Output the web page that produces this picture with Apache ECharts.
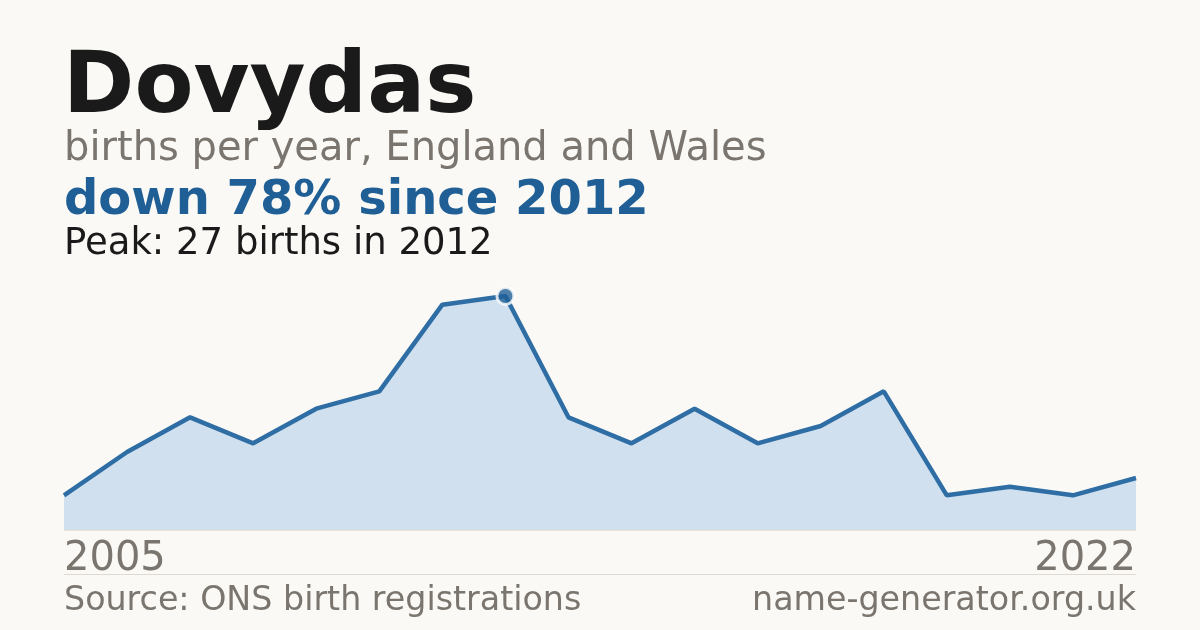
<!DOCTYPE html>
<html>
<head>
<meta charset="utf-8">
<title>Dovydas</title>
<script src="https://cdn.jsdelivr.net/npm/echarts@6/dist/echarts.min.js"></script>
<style>
  html, body { margin: 0; padding: 0; background: #faf9f5; }
  #main { width: 1200px; height: 630px; }
</style>
</head>
<body>
<div id="main"></div>
<script>
    // data
    var years = ['2005','2006','2007','2008','2009','2010','2011','2012','2013','2014','2015','2016','2017','2018','2019','2020','2021','2022'];
    var births = [4, 9, 13, 10, 14, 16, 26, 27, 13, 10, 14, 10, 12, 16, 4, 5, 4, 6];

    var peakIdx = births.indexOf(Math.max.apply(null, births));
    var font = '"DejaVu Sans", sans-serif';
    var grey = '#7a756e';

    var myChart = echarts.init(document.getElementById('main'));

    function txt(text, x, y, size, weight, color, align) {
        return {
            type: 'text',
            x: x, y: y,
            style: {
                text: text,
                font: weight + ' ' + size + 'px ' + font,
                fill: color,
                align: align || 'left',
                verticalAlign: 'top'
            }
        };
    }

    var option = {
        backgroundColor: '#faf9f5',
        animation: false,
        grid: { left: 64, right: 64, top: 296, bottom: 100 },
        xAxis: {
            type: 'category',
            data: years,
            boundaryGap: false,
            axisLine: { show: true, lineStyle: { color: '#e9e1d3', width: 1 } },
            axisTick: { show: false },
            axisLabel: { show: false },
            splitLine: { show: false }
        },
        yAxis: {
            type: 'value',
            min: 0,
            max: births[peakIdx],
            show: false
        },
        series: [
            {
                type: 'line',
                data: births,
                showSymbol: false,
                lineStyle: { color: '#2f6ea5', width: 4.5 },
                areaStyle: { color: '#d0e0ef', opacity: 1 },
                z: 2
            },
            {
                // peak marker
                type: 'scatter',
                data: [[peakIdx, births[peakIdx]]],
                symbol: 'circle',
                symbolSize: 17,
                itemStyle: { color: '#1f5f96', borderColor: '#ffffff', borderWidth: 3 },
                z: 3
            }
        ],
        graphic: [
            txt('Dovydas', 63, 47, 86, 'bold', '#1a1a1a'),
            txt('births per year, England and Wales', 64, 130, 40, 'normal', grey),
            txt('down 78% since 2012', 64, 178, 48, 'bold', '#1f5f96'),
            txt('Peak: ' + births[peakIdx] + ' births in ' + years[peakIdx], 64, 226, 37, 'normal', '#1a1a1a'),
            txt(years[0], 64, 540, 40, 'normal', grey),
            txt(years[years.length - 1], 1136, 540, 40, 'normal', grey, 'right'),
            {
                type: 'line',
                shape: { x1: 64, y1: 574.5, x2: 1136, y2: 574.5 },
                style: { stroke: '#dedad2', lineWidth: 1 }
            },
            txt('Source: ONS birth registrations', 64, 585, 33.3, 'normal', grey),
            txt('name-generator.org.uk', 1136, 585, 33.3, 'normal', grey, 'right')
        ]
    };

    myChart.setOption(option);
</script>
</body>
</html>
